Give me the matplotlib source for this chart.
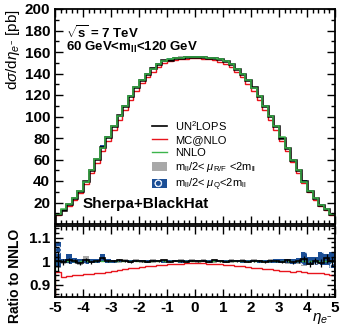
import numpy as np
import matplotlib
matplotlib.use("Agg")
import matplotlib.pyplot as plt
from matplotlib.ticker import MultipleLocator, FixedLocator
from matplotlib.patches import Patch
from matplotlib.lines import Line2D

plt.rcParams['font.family'] = ['Liberation Sans', 'DejaVu Sans']
plt.rcParams['mathtext.fontset'] = 'custom'
plt.rcParams['mathtext.rm'] = 'Liberation Sans'
plt.rcParams['mathtext.it'] = 'Liberation Sans:italic'
plt.rcParams['mathtext.bf'] = 'Liberation Sans:bold'
plt.rcParams['hatch.linewidth'] = 0.7

# ---- data ----
bin_edges = np.round(np.linspace(-5, 5, 51), 2)

nnlo = [9.0, 13.5, 18.2, 23.8, 30.8, 39.4, 50.0, 60.2, 71.0, 80.6,
        91.0, 100.6, 110.0, 119.0, 127.0, 134.0, 139.6, 144.6, 148.6, 151.6,
        153.2, 154.2, 154.8, 155.2, 155.3,
        155.3, 155.1, 154.7, 154.1, 153.1, 151.5, 148.5, 144.5, 139.5, 133.8,
        126.8, 118.8, 110.0, 100.5, 90.8, 80.6, 70.8, 60.0, 50.0, 39.5,
        30.8, 23.8, 18.0, 13.5, 9.3]

ratio_un2lops = [1.000, 0.996, 1.004, 1.000, 0.992, 1.006, 0.996, 1.001, 1.014, 1.000,
                 1.000, 1.004, 1.002, 0.998, 1.003, 1.000, 0.998, 1.002, 1.000, 1.004,
                 0.998, 1.002, 1.000, 0.998, 1.003,
                 1.000, 1.002, 0.998, 1.004, 1.000, 0.998, 1.002, 1.000, 1.003, 0.998,
                 1.002, 1.000, 0.996, 1.002, 1.000, 0.998, 1.004, 0.996, 1.000, 1.010,
                 0.988, 1.002, 0.992, 1.012, 1.000]
err_un2lops = [0.040, 0.012, 0.010, 0.008, 0.006, 0.008, 0.006, 0.006, 0.006, 0.005,
               0.005, 0.004, 0.004, 0.004, 0.004, 0.003, 0.003, 0.003, 0.003, 0.003,
               0.003, 0.003, 0.003, 0.003, 0.003,
               0.003, 0.003, 0.003, 0.003, 0.003, 0.003, 0.003, 0.003, 0.003, 0.003,
               0.004, 0.004, 0.004, 0.004, 0.005, 0.005, 0.006, 0.006, 0.008, 0.012,
               0.014, 0.012, 0.016, 0.018, 0.020]
ratio_mcatnlo = [0.955, 0.935, 0.938, 0.942, 0.940, 0.944, 0.946, 0.950, 0.952, 0.956,
                 0.960, 0.963, 0.966, 0.970, 0.973, 0.976, 0.978, 0.980, 0.983, 0.985,
                 0.987, 0.988, 0.990, 0.991, 0.992,
                 0.992, 0.991, 0.990, 0.989, 0.987, 0.985, 0.983, 0.980, 0.978, 0.975,
                 0.973, 0.970, 0.968, 0.965, 0.962, 0.960, 0.957, 0.955, 0.958, 0.954,
                 0.952, 0.950, 0.952, 0.946, 0.940]
ratio_nnlo = [1.0] * 50

band_rf_lo = [0.970, 0.990, 0.992, 0.994, 0.986, 1.000, 0.992, 0.994, 0.996, 0.994,
              0.992, 0.994, 0.996, 0.994, 0.996, 0.994, 0.992, 0.994, 0.996, 0.994,
              0.994, 0.996, 0.994, 0.994, 0.996,
              0.994, 0.996, 0.994, 0.994, 0.996, 0.994, 0.994, 0.996, 0.994, 0.994,
              0.996, 0.994, 0.992, 0.996, 0.994, 0.992, 0.990, 0.994, 0.988, 0.980,
              0.990, 0.986, 0.990, 0.990, 0.985]
band_rf_hi = [1.040, 1.010, 1.012, 1.008, 1.004, 1.022, 1.006, 1.008, 1.020, 1.008,
              1.006, 1.010, 1.008, 1.006, 1.008, 1.006, 1.006, 1.008, 1.006, 1.008,
              1.006, 1.006, 1.008, 1.006, 1.008,
              1.006, 1.008, 1.006, 1.008, 1.006, 1.006, 1.008, 1.006, 1.008, 1.006,
              1.008, 1.006, 1.006, 1.008, 1.006, 1.008, 1.010, 1.006, 1.008, 1.020,
              1.012, 1.014, 1.010, 1.024, 1.020]
band_q_lo = [0.975, 0.994, 0.988, 0.992, 0.990, 0.988, 0.992, 0.994, 1.000, 0.994,
             0.994, 0.995, 0.995, 0.994, 0.995, 0.995, 0.994, 0.995, 0.995, 0.994,
             0.995, 0.995, 0.994, 0.995, 0.995,
             0.995, 0.995, 0.994, 0.995, 0.995, 0.994, 0.995, 0.995, 0.994, 0.995,
             0.995, 0.994, 0.995, 0.994, 0.992, 0.992, 0.994, 0.990, 0.992, 0.985,
             0.982, 0.985, 0.982, 0.985, 0.972]
band_q_hi = [1.080, 1.010, 1.030, 1.012, 1.008, 1.010, 1.008, 1.008, 1.030, 1.010,
             1.006, 1.006, 1.006, 1.006, 1.006, 1.006, 1.006, 1.006, 1.006, 1.006,
             1.006, 1.006, 1.006, 1.006, 1.006,
             1.006, 1.006, 1.006, 1.006, 1.006, 1.006, 1.006, 1.006, 1.006, 1.006,
             1.006, 1.006, 1.006, 1.006, 1.008, 1.008, 1.008, 1.010, 1.012, 1.040,
             1.020, 1.018, 1.040, 1.030, 1.040]

xticks = [-5, -4, -3, -2, -1, 0, 1, 2, 3, 4, 5]
yticks_main = [20, 40, 60, 80, 100, 120, 140, 160, 180, 200]
yticks_ratio = [0.9, 1.0, 1.1]
yticklabels_ratio = ['0.9', '1', '1.1']

# ---- derived ----
nnlo_a = np.array(nnlo)
def ext(a):
    a = np.asarray(a, dtype=float)
    return np.append(a, a[-1])

centers = 0.5 * (bin_edges[:-1] + bin_edges[1:])

BLUE = '#1c4f96'
GREY = '#a8a8a8'
RED = '#e8141c'
GREEN = '#3cb44b'

fig = plt.figure(figsize=(3.41, 3.26), dpi=100)
W, H = 341, 326
axm = fig.add_axes([55/W, 1-224/H, 280/W, 215/H])
axr = fig.add_axes([55/W, 1-296.5/H, 280/W, 70.5/H])

def band(ax, lo, hi, scale, **kw):
    ax.fill_between(bin_edges, ext(np.array(lo)*scale), ext(np.array(hi)*scale),
                    step='post', **kw)

# main panel
band(axm, band_rf_lo, band_rf_hi, nnlo_a, facecolor=GREY, edgecolor='none', lw=0)
band(axm, band_q_lo, band_q_hi, nnlo_a, facecolor=BLUE, edgecolor='none', lw=0)
axm.stairs(nnlo_a*np.array(ratio_mcatnlo), bin_edges, color=RED, lw=1.0)
axm.stairs(nnlo_a*np.array(ratio_un2lops), bin_edges, color='black', lw=1.8)
axm.stairs(nnlo_a*np.array(ratio_nnlo), bin_edges, color=GREEN, lw=1.1)

# ratio panel
band(axr, band_rf_lo, band_rf_hi, 1.0, facecolor=GREY, edgecolor='none', lw=0)
band(axr, band_q_lo, band_q_hi, 1.0, facecolor=BLUE, edgecolor='#dce6f5', hatch='o', lw=0)
axr.stairs(ratio_mcatnlo, bin_edges, color=RED, lw=1.0)
axr.stairs(ratio_nnlo, bin_edges, color=GREEN, lw=1.0, linestyle=(0, (3, 2)))
axr.stairs(ratio_un2lops, bin_edges, color='black', lw=1.2)
axr.errorbar(centers, ratio_un2lops, yerr=err_un2lops, fmt='none', ecolor='black', elinewidth=0.9)

for ax in (axm, axr):
    ax.set_xlim(-5, 5)
    ax.xaxis.set_major_locator(FixedLocator(xticks))
    ax.xaxis.set_minor_locator(MultipleLocator(0.2))
    ax.tick_params(which='both', direction='in', top=True, right=True, width=1.0)
    ax.tick_params(which='major', length=6)
    ax.tick_params(which='minor', length=3)
    ax.tick_params(labelsize=11)
    for s in ax.spines.values():
        s.set_linewidth(1.3)

axm.set_ylim(0, 200)
axm.yaxis.set_major_locator(FixedLocator(yticks_main))
axm.yaxis.set_minor_locator(MultipleLocator(10))
axm.tick_params(labelbottom=False)
axm.set_ylabel(r'd$\sigma$/d$\eta_{e^{-}}$ [pb]', fontsize=11, loc='top', labelpad=2)

axr.set_ylim(0.85, 1.15)
axr.yaxis.set_major_locator(FixedLocator(yticks_ratio))
axr.set_yticklabels(yticklabels_ratio)
axr.yaxis.set_minor_locator(MultipleLocator(0.02))
axr.set_xticklabels([str(t) for t in xticks], fontweight='bold')
for lab in axr.get_yticklabels() + axm.get_yticklabels():
    lab.set_fontweight('bold')
fig.text(15/W, 1-276/H, 'Ratio to NNLO', fontsize=10, fontweight='bold',
         rotation=90, ha='center', va='center')
fig.text(322/W, 1-318/H, r'$\eta_{e^{-}}$', fontsize=11, ha='center', va='center')

axm.text(0.04, 0.89, r'$\mathbf{\sqrt{s}}$ = 7 TeV', transform=axm.transAxes,
         fontsize=9.5, fontweight='bold', va='center')
axm.text(0.04, 0.82, r'60 GeV<m$_{\mathbf{ll}}$<120 GeV', transform=axm.transAxes,
         fontsize=9.5, fontweight='bold', va='center')
axm.text(0.10, 0.095, 'Sherpa+BlackHat', transform=axm.transAxes,
         fontsize=11, fontweight='bold', va='center')

handles = [Line2D([], [], color='black', lw=1.2),
           Line2D([], [], color=RED, lw=1.0),
           Line2D([], [], color=GREEN, lw=1.0),
           Patch(facecolor=GREY, edgecolor='none'),
           Patch(facecolor=BLUE, edgecolor='#dce6f5', hatch='o', lw=0)]
labels = [r'UN$^2$LOPS', 'MC@NLO', 'NNLO',
          r'm$_{\mathrm{ll}}$/2< $\mu_{\mathrm{R/F}}$ <2m$_{\mathrm{ll}}$',
          r'm$_{\mathrm{ll}}$/2< $\mu_{\mathrm{Q}}$<2m$_{\mathrm{ll}}$']
leg = axm.legend(handles, labels, loc='upper left', bbox_to_anchor=(0.33, 0.51),
                 frameon=False, fontsize=8, handlelength=1.4, handleheight=0.9,
                 handletextpad=0.7, labelspacing=0.2, borderaxespad=0)

fig.savefig('out.png', dpi=100)
